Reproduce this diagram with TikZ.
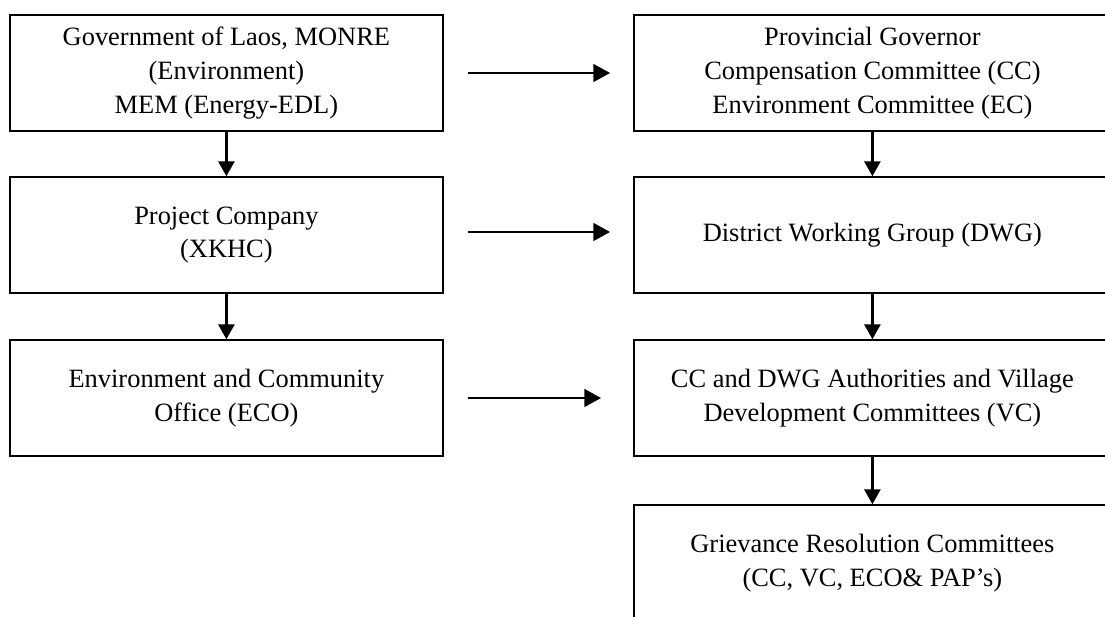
\documentclass[tikz,border=0pt]{standalone}
\usepackage{fontspec}
\setmainfont{Liberation Serif}
\usetikzlibrary{positioning, arrows.meta}

\begin{document}
\begin{tikzpicture}[
  font=\fontsize{18.8}{24}\selectfont, >={Triangle[length=0.37cm, width=0.40cm]},
  every node/.style={align=center},
  lbox/.style  = {draw=black, line width=1.1pt, minimum width=10.825cm,
                  minimum height=2.9cm, inner sep=0pt},
  rbox/.style  = {draw=black, line width=1.1pt, minimum width=11.925cm,
                  minimum height=2.9cm, inner sep=0pt},
  flow/.style  = {->, line width=1.8pt, black},
  across/.style= {-{Triangle[length=0.42cm, width=0.44cm]}, line width=2pt,
                  black, shorten <=0.6cm},
]

% ── Page frame (right and bottom edges run off the sheet) ─────────────────────
\path[use as bounding box, clip] (0,0) rectangle (27.625,-15.425);

% ── Left column ───────────────────────────────────────────────────────────────
\node[lbox] (govt)    at (5.66, -1.825) {Government of Laos, MONRE\\(Environment)\\MEM (Energy-EDL)};
\node[lbox] (company) at (5.66, -5.875) {Project Company\\(XKHC)};
\node[lbox] (eco)     at (5.66, -9.95 ) {Environment and Community\\Office (ECO)};

% ── Right column ──────────────────────────────────────────────────────────────
\node[rbox] (governor)  at (21.81, -1.825) {Provincial Governor\\Compensation Committee (CC)\\Environment Committee (EC)};
\node[rbox] (dwg)       at (21.81, -5.875) {District Working Group (DWG)};
\node[rbox] (village)   at (21.81, -9.95 ) {CC and DWG Authorities and Village\\Development Committees (VC)};
\node[rbox] (grievance) at (21.81, -14.075) {Grievance Resolution Committees\\(CC, VC, ECO\& PAP’s)};

% ── Vertical flow ─────────────────────────────────────────────────────────────
\draw[flow] (govt)     -- (company);
\draw[flow] (company)  -- (eco);
\draw[flow] (governor) -- (dwg);
\draw[flow] (dwg)      -- (village);
\draw[flow] (village)  -- (grievance);

% ── Left to right ─────────────────────────────────────────────────────────────
\draw[across, shorten >=0.575cm] (govt.east)    -- (governor.west |- govt.east);
\draw[across, shorten >=0.575cm] ([yshift=0.075cm]company.east) -- ([yshift=0.075cm]dwg.west);
\draw[across, shorten >=0.8cm]   (eco.east)     -- (village.west |- eco.east);

\end{tikzpicture}
\end{document}
